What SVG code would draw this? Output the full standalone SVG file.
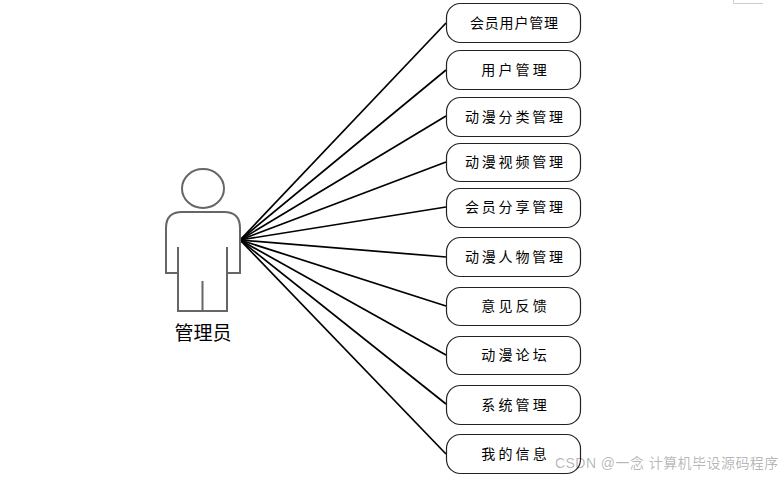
<svg xmlns="http://www.w3.org/2000/svg" width="784" height="477" viewBox="0 0 784 477">
<style>
.n{fill:#fff;stroke:#222;stroke-width:1.2}
.t{font-family:"Noto Sans CJK SC","Liberation Sans",sans-serif;font-size:14px;fill:#000;text-anchor:middle;letter-spacing:2.8px}
.f{letter-spacing:3.2px}
.c{stroke:#000;stroke-width:1.7;fill:none}
.a{fill:none;stroke:#666;stroke-width:2}
</style>
<rect width="784" height="477" fill="#fff"/>
<path d="M733.500 0V3.500H763" fill="none" stroke="#ccc"/>
<g id="connectors">
<path class="c" d="M240 240L446 23"/><path class="c" d="M240 240L446 70"/><path class="c" d="M240 240L446 116"/><path class="c" d="M240 240L446 162"/><path class="c" d="M240 240L446 207"/><path class="c" d="M240 240L446 257"/><path class="c" d="M240 240L446 306"/><path class="c" d="M240 240L446 355"/><path class="c" d="M240 240L446 404"/><path class="c" d="M240 240L446 454"/>
</g>
<g id="actor">
<ellipse class="a" cx="203" cy="188.500" rx="21" ry="19.500"/>
<path class="a" d="M182 212H224Q240 212 240 228V273H227M227 247V311H178V247M178 273H166V228Q166 212 182 212M202.500 281V311"/>
<text x="203" y="340" font-family="'Noto Sans CJK SC',sans-serif" font-size="19" text-anchor="middle" fill="#000">管理员</text>
</g>
<g id="n1"><rect class="n" x="446.500" y="3.500" width="134" height="39" rx="14"/><text class="t" x="514.400" y="28" style="letter-spacing:.8px">会员用户管理</text></g>
<g id="n2"><rect class="n" x="446.500" y="50.500" width="134" height="39" rx="14"/><text class="t f" x="515.600" y="75">用户管理</text></g>
<g id="n3"><rect class="n" x="446.500" y="97.500" width="134" height="39" rx="14"/><text class="t" x="515.400" y="122">动漫分类管理</text></g>
<g id="n4"><rect class="n" x="446.500" y="143.500" width="134" height="38" rx="14"/><text class="t" x="515.400" y="167">动漫视频管理</text></g>
<g id="n5"><rect class="n" x="446.500" y="188.500" width="134" height="39" rx="14"/><text class="t" x="515.400" y="212">会员分享管理</text></g>
<g id="n6"><rect class="n" x="446.500" y="237.500" width="134" height="39" rx="14"/><text class="t" x="515.400" y="262">动漫人物管理</text></g>
<g id="n7"><rect class="n" x="446.500" y="287.500" width="134" height="38" rx="14"/><text class="t f" x="515.600" y="311">意见反馈</text></g>
<g id="n8"><rect class="n" x="446.500" y="336.500" width="134" height="38" rx="14"/><text class="t f" x="515.600" y="360">动漫论坛</text></g>
<g id="n9"><rect class="n" x="446.500" y="385.500" width="134" height="39" rx="14"/><text class="t f" x="515.600" y="410">系统管理</text></g>
<g id="n10"><rect class="n" x="446.500" y="434.500" width="134" height="39" rx="14"/><text class="t f" x="515.600" y="459">我的信息</text></g>
<text x="555" y="468" font-family="'Liberation Sans','Noto Sans CJK SC',sans-serif" font-size="14" letter-spacing=".45" fill="#000" fill-opacity=".3">CSDN @一念 计算机毕设源码程序</text>
</svg>
